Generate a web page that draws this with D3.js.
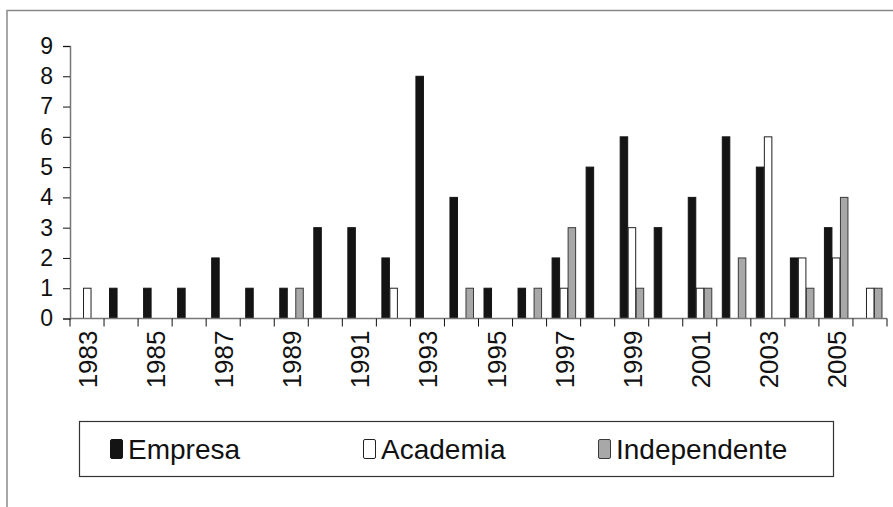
<!DOCTYPE html>
<html>
<head>
<meta charset="utf-8">
<script src="https://cdn.jsdelivr.net/npm/d3@7"></script>
<style>
  body { margin: 0; background: #fff; }
  text { font-family: "Liberation Sans", Arial, sans-serif; fill: #111; }
</style>
</head>
<body>
<div id="chart"></div>
<script>
// data
var years = ["1983","1984","1985","1986","1987","1988","1989","1990","1991","1992","1993","1994",
             "1995","1996","1997","1998","1999","2000","2001","2002","2003","2004","2005","2006"];
var seriesNames = ["Empresa", "Academia", "Independente"];
var empresa      = [0,1,1,1,2,1,1,3,3,2,8,4,1,1,2,5,6,3,4,6,5,2,3,0];
var academia     = [1,0,0,0,0,0,0,0,0,1,0,0,0,0,1,0,3,0,1,0,6,2,2,1];
var independente = [0,0,0,0,0,0,1,0,0,0,0,1,0,1,3,0,1,0,1,2,0,1,4,1];
var yTicks = [0,1,2,3,4,5,6,7,8,9];

var fills   = ["#141414", "#ffffff", "#a8a8a8"];
var strokes = ["#141414", "#222222", "#3a3a3a"];

var svgWidth = 893, svgHeight = 507;
var plot = { left: 70, right: 887, top: 46, bottom: 318.5 };

var svg = d3.select("#chart").append("svg")
  .attr("width", svgWidth)
  .attr("height", svgHeight);

// outer chart frame (right/bottom edges run off the picture)
svg.append("rect")
  .attr("x", 7).attr("y", 10.5)
  .attr("width", 900).attr("height", 520)
  .attr("fill", "none")
  .attr("stroke", "#8a8a8a")
  .attr("stroke-width", 1.5);

var rows = years.map(function(y, i) {
  return { year: y, values: [empresa[i], academia[i], independente[i]] };
});

var x0 = d3.scaleBand().domain(years).range([plot.left, plot.right]).padding(0);
var bw = x0.bandwidth();
var barW = bw / (3 + 1.25);
var x1 = d3.scaleBand().domain(seriesNames)
  .range([(bw - 3 * barW) / 2, (bw - 3 * barW) / 2 + 3 * barW]);

var y = d3.scaleLinear().domain([0, 9]).range([plot.bottom, plot.top]);

// bars
var groups = svg.append("g").selectAll("g")
  .data(rows)
  .enter().append("g")
  .attr("transform", d => `translate(${x0(d.year)},0)`);

groups.selectAll("rect")
  .data(d => d.values.map((v, k) => ({ key: seriesNames[k], k: k, v: v })).filter(e => e.v > 0))
  .enter().append("rect")
  .attr("x", d => x1(d.key) + 0.5)
  .attr("y", d => y(d.v))
  .attr("width", x1.bandwidth() - 0.5)
  .attr("height", d => y(0) - y(d.v))
  .attr("fill", d => fills[d.k])
  .attr("stroke", d => strokes[d.k])
  .attr("stroke-width", 1);

// y axis
var yAxis = svg.append("g")
  .attr("transform", `translate(${plot.left},0)`)
  .call(d3.axisLeft(y).tickValues(yTicks).tickSize(7).tickPadding(10).tickFormat(d3.format("d")));
yAxis.select(".domain").attr("stroke", "#777").attr("stroke-width", 1.5);
yAxis.selectAll(".tick line").attr("stroke", "#111");
yAxis.selectAll("text")
  .style("font-size", "23px")
  .attr("fill", "#111");

// x axis: line + ticks at category boundaries
svg.append("line")
  .attr("x1", plot.left).attr("x2", plot.right)
  .attr("y1", plot.bottom).attr("y2", plot.bottom)
  .attr("stroke", "#777").attr("stroke-width", 1.5);

svg.append("g").selectAll("line")
  .data(years.concat(["end"]))
  .enter().append("line")
  .attr("x1", (d, i) => plot.left + i * bw)
  .attr("x2", (d, i) => plot.left + i * bw)
  .attr("y1", plot.bottom)
  .attr("y2", plot.bottom + 8)
  .attr("stroke", "#111");

svg.append("g").selectAll("text")
  .data(years.filter((d, i) => i % 2 === 0))
  .enter().append("text")
  .attr("transform", d => `translate(${x0(d) + bw / 2 + 1},${plot.bottom + 12}) rotate(-90)`)
  .attr("text-anchor", "end")
  .attr("dominant-baseline", "central")
  .style("font-size", "26px")
  .text(d => d);

// legend
var legend = svg.append("g");
legend.append("rect")
  .attr("x", 79.5).attr("y", 421.5)
  .attr("width", 754).attr("height", 55)
  .attr("fill", "#fff")
  .attr("stroke", "#333")
  .attr("stroke-width", 1.2);

var legendX = [110, 363, 598];
var items = legend.selectAll("g.item")
  .data(seriesNames)
  .enter().append("g")
  .attr("class", "item")
  .attr("transform", (d, i) => `translate(${legendX[i]},0)`);

items.append("rect")
  .attr("x", 0.5).attr("y", 439.5)
  .attr("width", 12).attr("height", 19)
  .attr("rx", 1.5)
  .attr("fill", (d, i) => fills[i])
  .attr("stroke", (d, i) => strokes[i]);

items.append("text")
  .attr("x", 18)
  .attr("y", 459)
  .style("font-size", "28px")
  .text(d => d);
</script>
</body>
</html>
